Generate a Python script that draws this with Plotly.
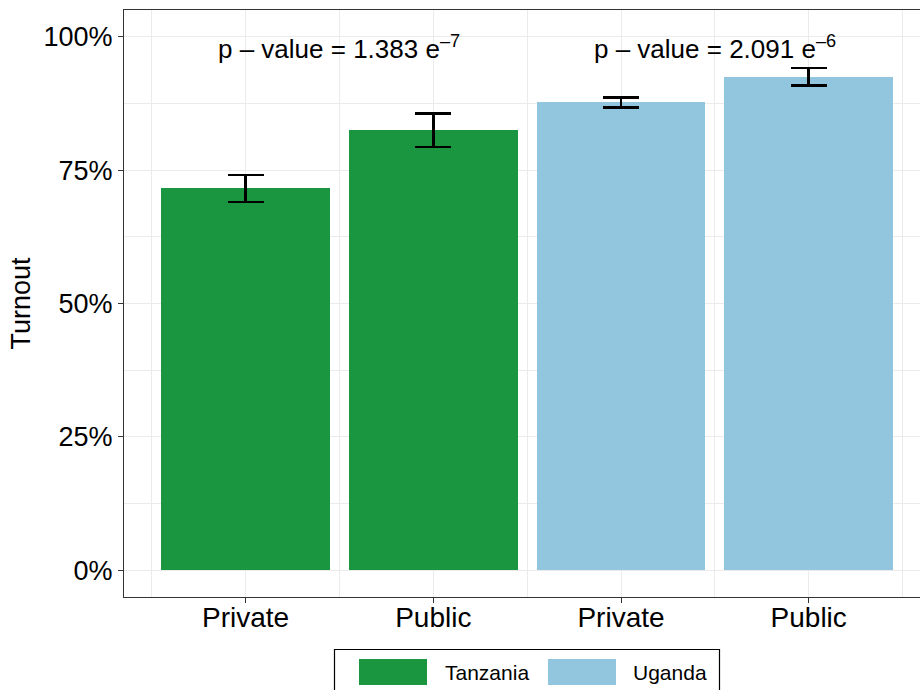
import plotly.graph_objects as go

# ---- data ----
countries = ["Tanzania", "Uganda"]
colors = ["#1a9641", "#92c5de"]
types = ["Private", "Public"]
turnout_tz = [0.717, 0.826]
low_tz = [0.690, 0.793]
high_tz = [0.741, 0.856]
turnout_ug = [0.878, 0.925]
low_ug = [0.867, 0.908]
high_ug = [0.886, 0.941]
pvalue_texts = ["p – value = 1.383 e<sup>–7</sup>", "p – value = 2.091 e<sup>–6</sup>"]
ytick_vals = [0, 0.25, 0.5, 0.75, 1.0]

FONT = "Liberation Sans, Arial, Helvetica, sans-serif"

L, R, T, B = 124, 0, 10, 93
W, H = 920, 690
PW, PH = W - L - R, H - T - B

fig = go.Figure()
series = [(turnout_tz, low_tz, high_tz), (turnout_ug, low_ug, high_ug)]
x_all = []
for i, (vals, lo, hi) in enumerate(series):
    xs = [2 * i + 1, 2 * i + 2]
    x_all += xs
    fig.add_trace(go.Bar(
        x=xs, y=vals, name=countries[i], width=0.9,
        marker=dict(color=colors[i], line=dict(width=0)),
        error_y=dict(type="data", symmetric=False,
                     array=[h - v for h, v in zip(hi, vals)],
                     arrayminus=[v - l for v, l in zip(vals, lo)],
                     color="black", thickness=2.6, width=18),
        showlegend=False,
    ))

# p-value annotations centred between bars of each country
for i, txt in enumerate(pvalue_texts):
    fig.add_annotation(x=2 * i + 1.5, y=0.98, xref="x", yref="y", text=txt,
                       showarrow=False, font=dict(size=26, color="black", family=FONT),
                       yanchor="middle")

# manual legend (ggplot style at bottom)
def px_x(x):
    return (x - L) / PW
def px_y(y):
    return (H - B - y) / PH

fig.add_shape(type="rect", xref="paper", yref="paper",
              x0=px_x(334.5), x1=px_x(719.5), y0=px_y(720), y1=px_y(649.5),
              line=dict(color="black", width=1.2), fillcolor="white")
key_x = [359, 548]
text_x = [443, 631]
for i, c in enumerate(countries):
    fig.add_shape(type="rect", xref="paper", yref="paper",
                  x0=px_x(key_x[i]), x1=px_x(key_x[i] + 68), y0=px_y(685), y1=px_y(659),
                  line=dict(width=0), fillcolor=colors[i])
    fig.add_annotation(x=px_x(text_x[i]), y=px_y(672), xref="paper", yref="paper",
                       text=c, showarrow=False, xanchor="left", yanchor="middle",
                       font=dict(size=21, color="black", family=FONT))

grid = "#ebebeb"
fig.update_layout(
    width=W, height=H,
    margin=dict(l=L, r=R, t=T, b=B),
    paper_bgcolor="white", plot_bgcolor="white",
    barmode="overlay", bargap=0,
    font=dict(family=FONT, color="black"),
    xaxis=dict(range=[0.352, 4.593], tickvals=x_all, ticktext=types * 2,
               showgrid=True, gridcolor=grid, gridwidth=1.2,
               minor=dict(tickvals=[0.5, 1.5, 2.5, 3.5, 4.5], showgrid=True,
                          gridcolor=grid, gridwidth=0.6, ticklen=0),
               ticks="outside", ticklen=5, tickcolor="#333333", tickwidth=1.2,
               tickfont=dict(size=28, color="black"), ticklabelstandoff=-10,
               showline=True, linecolor="#333333", linewidth=1.2, mirror=True,
               zeroline=False),
    yaxis=dict(range=[-0.05, 1.05], tickvals=ytick_vals, tickformat=".0%",
               showgrid=True, gridcolor=grid, gridwidth=1.2,
               minor=dict(tickvals=[0.125, 0.375, 0.625, 0.875], showgrid=True,
                          gridcolor=grid, gridwidth=0.6, ticklen=0),
               ticks="outside", ticklen=5, tickcolor="#333333", tickwidth=1.2,
               tickfont=dict(size=27, color="black"),
               title=dict(text="Turnout", font=dict(size=27, color="black"), standoff=4),
               showline=True, linecolor="#333333", linewidth=1.2, mirror=False,
               zeroline=False),
)

fig.write_html("out.html")
